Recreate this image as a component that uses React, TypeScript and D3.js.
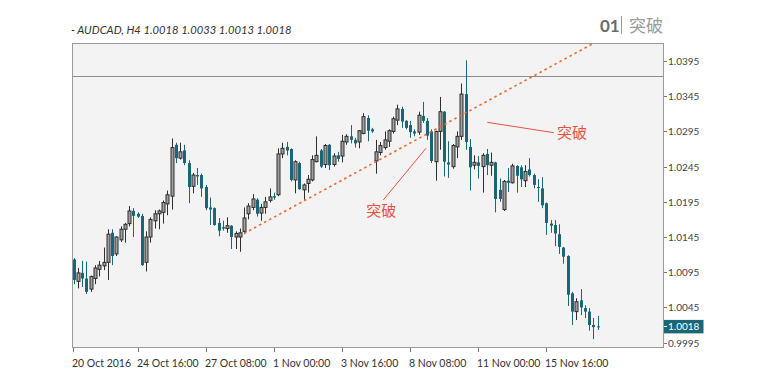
import React from "react";
import * as d3 from "d3";

// AUDCAD H4 candles, index 0 = 20 Oct 2016 04:00
const opens = [1.0113,1.0082,1.0094,1.0086,1.0071,1.0086,1.0099,1.0104,1.0109,1.0151,1.0121,1.0141,1.0156,1.0164,1.0182,1.0178,1.0175,1.0109,1.0145,1.0168,1.0178,1.0180,1.0192,1.0203,1.0276,1.0257,1.0268,1.0250,1.0217,1.0233,1.0233,1.0216,1.0187,1.0186,1.0165,1.0159,1.0157,1.0161,1.0145,1.0145,1.0153,1.0178,1.0187,1.0198,1.0179,1.0187,1.0197,1.0203,1.0205,1.0263,1.0273,1.0270,1.0226,1.0250,1.0212,1.0221,1.0226,1.0252,1.0268,1.0248,1.0276,1.0248,1.0261,1.0260,1.0280,1.0288,1.0283,1.0280,1.0292,1.0314,1.0298,1.0253,1.0265,1.0272,1.0281,1.0295,1.0311,1.0327,1.0310,1.0304,1.0295,1.0294,1.0317,1.0310,1.0295,1.0252,1.0295,1.0323,1.0251,1.0245,1.0273,1.0288,1.0348,1.0273,1.0247,1.0251,1.0245,1.0263,1.0247,1.0251,1.0212,1.0184,1.0225,1.0222,1.0246,1.0244,1.0225,1.0241,1.0233,1.0216,1.0214,1.0193,1.0164,1.0162,1.0149,1.0130,1.0118,1.0065,1.0039,1.0055,1.0044,1.0039,1.0020,1.0018];
const highs = [1.0115,1.0101,1.0111,1.0110,1.0090,1.0105,1.0111,1.0130,1.0156,1.0156,1.0146,1.0160,1.0165,1.0189,1.0186,1.0180,1.0178,1.0153,1.0173,1.0183,1.0184,1.0197,1.0211,1.0285,1.0279,1.0279,1.0276,1.0254,1.0236,1.0243,1.0235,1.0219,1.0201,1.0187,1.0172,1.0168,1.0173,1.0162,1.0153,1.0157,1.0187,1.0193,1.0206,1.0200,1.0192,1.0202,1.0214,1.0208,1.0271,1.0279,1.0280,1.0271,1.0254,1.0252,1.0221,1.0233,1.0261,1.0288,1.0270,1.0277,1.0277,1.0264,1.0266,1.0290,1.0291,1.0304,1.0286,1.0297,1.0321,1.0318,1.0300,1.0283,1.0280,1.0295,1.0298,1.0316,1.0333,1.0330,1.0311,1.0310,1.0298,1.0323,1.0337,1.0314,1.0298,1.0296,1.0344,1.0324,1.0281,1.0277,1.0295,1.0363,1.0396,1.0284,1.0261,1.0260,1.0264,1.0270,1.0265,1.0252,1.0228,1.0226,1.0243,1.0249,1.0247,1.0247,1.0247,1.0257,1.0235,1.0227,1.0230,1.0194,1.0169,1.0169,1.0163,1.0131,1.0119,1.0067,1.0058,1.0071,1.0048,1.0044,1.0030,1.0033];
const lows = [1.0078,1.0072,1.0074,1.0064,1.0067,1.0078,1.0089,1.0098,1.0084,1.0105,1.0118,1.0138,1.0137,1.0160,1.0145,1.0172,1.0104,1.0096,1.0137,1.0157,1.0156,1.0164,1.0176,1.0184,1.0250,1.0255,1.0247,1.0193,1.0207,1.0219,1.0202,1.0183,1.0162,1.0161,1.0146,1.0154,1.0151,1.0128,1.0128,1.0124,1.0149,1.0170,1.0183,1.0174,1.0168,1.0178,1.0194,1.0198,1.0203,1.0257,1.0261,1.0224,1.0207,1.0212,1.0198,1.0208,1.0224,1.0251,1.0243,1.0243,1.0240,1.0245,1.0252,1.0251,1.0276,1.0278,1.0272,1.0271,1.0291,1.0281,1.0293,1.0235,1.0261,1.0269,1.0273,1.0292,1.0304,1.0300,1.0298,1.0286,1.0288,1.0290,1.0307,1.0283,1.0250,1.0225,1.0269,1.0231,1.0229,1.0242,1.0257,1.0283,1.0269,1.0211,1.0241,1.0228,1.0208,1.0233,1.0232,1.0180,1.0195,1.0182,1.0209,1.0221,1.0208,1.0216,1.0216,1.0231,1.0214,1.0195,1.0186,1.0148,1.0151,1.0132,1.0121,1.0107,1.0047,1.0020,1.0027,1.0034,1.0030,1.0012,1.0000,1.0013];
const closes = [1.0084,1.0094,1.0086,1.0067,1.0089,1.0101,1.0105,1.0109,1.0149,1.0118,1.0145,1.0156,1.0163,1.0182,1.0175,1.0174,1.0105,1.0145,1.0170,1.0178,1.0182,1.0194,1.0205,1.0272,1.0257,1.0266,1.0250,1.0216,1.0233,1.0231,1.0214,1.0186,1.0184,1.0162,1.0154,1.0157,1.0161,1.0145,1.0150,1.0151,1.0172,1.0189,1.0199,1.0178,1.0187,1.0195,1.0202,1.0201,1.0263,1.0271,1.0268,1.0226,1.0252,1.0213,1.0219,1.0227,1.0255,1.0261,1.0245,1.0275,1.0247,1.0260,1.0256,1.0281,1.0288,1.0283,1.0278,1.0296,1.0316,1.0296,1.0295,1.0266,1.0275,1.0283,1.0296,1.0313,1.0327,1.0309,1.0300,1.0294,1.0292,1.0318,1.0310,1.0289,1.0253,1.0295,1.0323,1.0252,1.0248,1.0275,1.0288,1.0348,1.0280,1.0244,1.0251,1.0246,1.0261,1.0247,1.0251,1.0199,1.0199,1.0224,1.0222,1.0246,1.0232,1.0227,1.0238,1.0233,1.0219,1.0215,1.0190,1.0165,1.0161,1.0150,1.0131,1.0117,1.0063,1.0039,1.0053,1.0045,1.0039,1.0020,1.0017,1.0018];

const yTicks = [1.0395, 1.0345, 1.0295, 1.0245, 1.0195, 1.0145, 1.0095, 1.0045, 0.9995];
const xTickLabels = ["20 Oct 2016", "24 Oct 16:00", "27 Oct 08:00", "1 Nov 00:00", "3 Nov 16:00", "8 Nov 08:00", "11 Nov 00:00", "15 Nov 16:00"];
const xTickIndex = [-0.25, 15, 31, 47, 63, 79, 95, 111];

const titleText = "- AUDCAD, H4 1.0018 1.0033 1.0013 1.0018";
const lastPrice = 1.0018;
const resistanceLevel = 1.0374;
const trendIndex = [40, 122];
const trendPrice = [1.015, 1.042];
// annotation callouts: [index, price] of line ends and label
const callout1 = { from: [72.7, 1.01976], to: [82.7, 1.0271], label: [72.2, 1.0182] };
const callout2 = { from: [97.1, 1.03079], to: [112.7, 1.02932], label: [117.0, 1.02927] };
const annotationText = "突破";

const TEAL = "#1a6677";
const UPFILL = "#a0a0a0";
const DARK = "#2e2e2e";
const ORANGE = "#f0652a";
const RED = "#e9513f";
const FONT = "Lato, 'Open Sans', sans-serif";

export default function App() {
  const W = 766, H = 383;
  const pl = 72, pr = 664, pt = 43, pb = 348;
  const x = d3.scaleLinear().domain([-0.4, 138.6]).range([pl, pr]);
  const y = d3.scaleLinear().domain([0.99873, 1.04206]).range([pb, pt]);
  const trendLine = d3.line<number>()
    .x((d) => x(trendIndex[d]))
    .y((d) => y(trendPrice[d]));

  return (
    <svg width={W} height={H} style={{ position: "absolute", left: 0, top: 0, background: "#fff" }} fontFamily={FONT}>
      <defs>
        <clipPath id="plotclip">
          <rect x={pl} y={pt} width={pr - pl} height={pb - pt} />
        </clipPath>
      </defs>
      <rect x={0} y={0} width={W} height={H} fill="#fff" />
      {/* title */}
      <text x={71} y={34} fontSize={11.2} fontStyle="italic" fill="#333">{titleText}</text>
      {/* top-right badge */}
      <text x={600} y={32} fontSize={17} fontWeight={700} fill="#6b6b6b">01</text>
      <line x1={621.5} x2={621.5} y1={16} y2={34} stroke="#9a9a9a" strokeWidth={1} />
      <text x={629} y={32} fontSize={17} fill="#9a9a9a" fontFamily="'Noto Sans CJK SC', sans-serif">突破</text>

      {/* plot background */}
      <rect x={pl + 0.5} y={pt + 0.5} width={pr - pl - 1} height={pb - pt - 1} fill="#f3f3f3" stroke="#9a9a9a" strokeWidth={1} />

      <g clipPath="url(#plotclip)">
        <line x1={pl} x2={pr} y1={Math.round(y(resistanceLevel)) + 0.5} y2={Math.round(y(resistanceLevel)) + 0.5} stroke="#8c8c8c" strokeWidth={1} />
        {opens.map((o, i) => {
          const c = closes[i];
          const up = c > o;
          const cx = Math.round(x(i));
          const top = y(Math.max(o, c));
          const bot = y(Math.min(o, c));
          const h = Math.max(1, bot - top);
          return (
            <g key={i}>
              <line x1={cx + 0.5} x2={cx + 0.5} y1={y(highs[i])} y2={y(lows[i])} stroke={up ? DARK : TEAL} strokeWidth={1} />
              {up ? (
                <rect x={cx - 1} y={top} width={3} height={h} fill={UPFILL} stroke={DARK} strokeWidth={1} />
              ) : (
                <rect x={cx - 1} y={top} width={3} height={h} fill={TEAL} />
              )}
            </g>
          );
        })}
        <path d={trendLine([0, 1]) || ""} fill="none" stroke={ORANGE} strokeWidth={1.6} strokeDasharray="2.5 3.2" />
      </g>

      {/* callouts */}
      <line x1={x(callout1.from[0])} y1={y(callout1.from[1])} x2={x(callout1.to[0])} y2={y(callout1.to[1])} stroke={RED} strokeWidth={1} />
      <text x={x(callout1.label[0])} y={y(callout1.label[1])} dy="0.35em" textAnchor="middle" fontSize={15} fill={RED} fontFamily="'Noto Sans CJK SC', sans-serif">{annotationText}</text>
      <line x1={x(callout2.from[0])} y1={y(callout2.from[1])} x2={x(callout2.to[0])} y2={y(callout2.to[1])} stroke={RED} strokeWidth={1} />
      <text x={x(callout2.label[0])} y={y(callout2.label[1])} dy="0.35em" textAnchor="middle" fontSize={15} fill={RED} fontFamily="'Noto Sans CJK SC', sans-serif">{annotationText}</text>

      {/* right axis */}
      {yTicks.map((t) => {
        const yy = Math.round(y(t)) + 0.5;
        return (
          <g key={t}>
            <line x1={pr} x2={pr + 3} y1={yy} y2={yy} stroke="#777" />
            <text x={pr + 4} y={yy} dy="0.35em" fontSize={10} fill="#444">{t.toFixed(4)}</text>
          </g>
        );
      })}
      <g>
        <rect x={pr} y={y(lastPrice) - 6.5} width={39.5} height={13.5} fill={TEAL} />
        <line x1={pr} x2={pr + 3} y1={Math.round(y(lastPrice)) + 0.5} y2={Math.round(y(lastPrice)) + 0.5} stroke="#fff" />
        <text x={pr + 4} y={y(lastPrice)} dy="0.35em" fontSize={10} fill="#fff">{lastPrice.toFixed(4)}</text>
      </g>

      {/* bottom axis */}
      {xTickLabels.map((lab, k) => {
        const xx = Math.round(x(xTickIndex[k])) + 0.5;
        return (
          <g key={lab}>
            <line x1={xx} x2={xx} y1={pb} y2={pb + 4} stroke="#777" />
            <text x={xx - 1.5} y={363} dy="0.35em" fontSize={10.5} fill="#333">{lab}</text>
          </g>
        );
      })}
    </svg>
  );
}
